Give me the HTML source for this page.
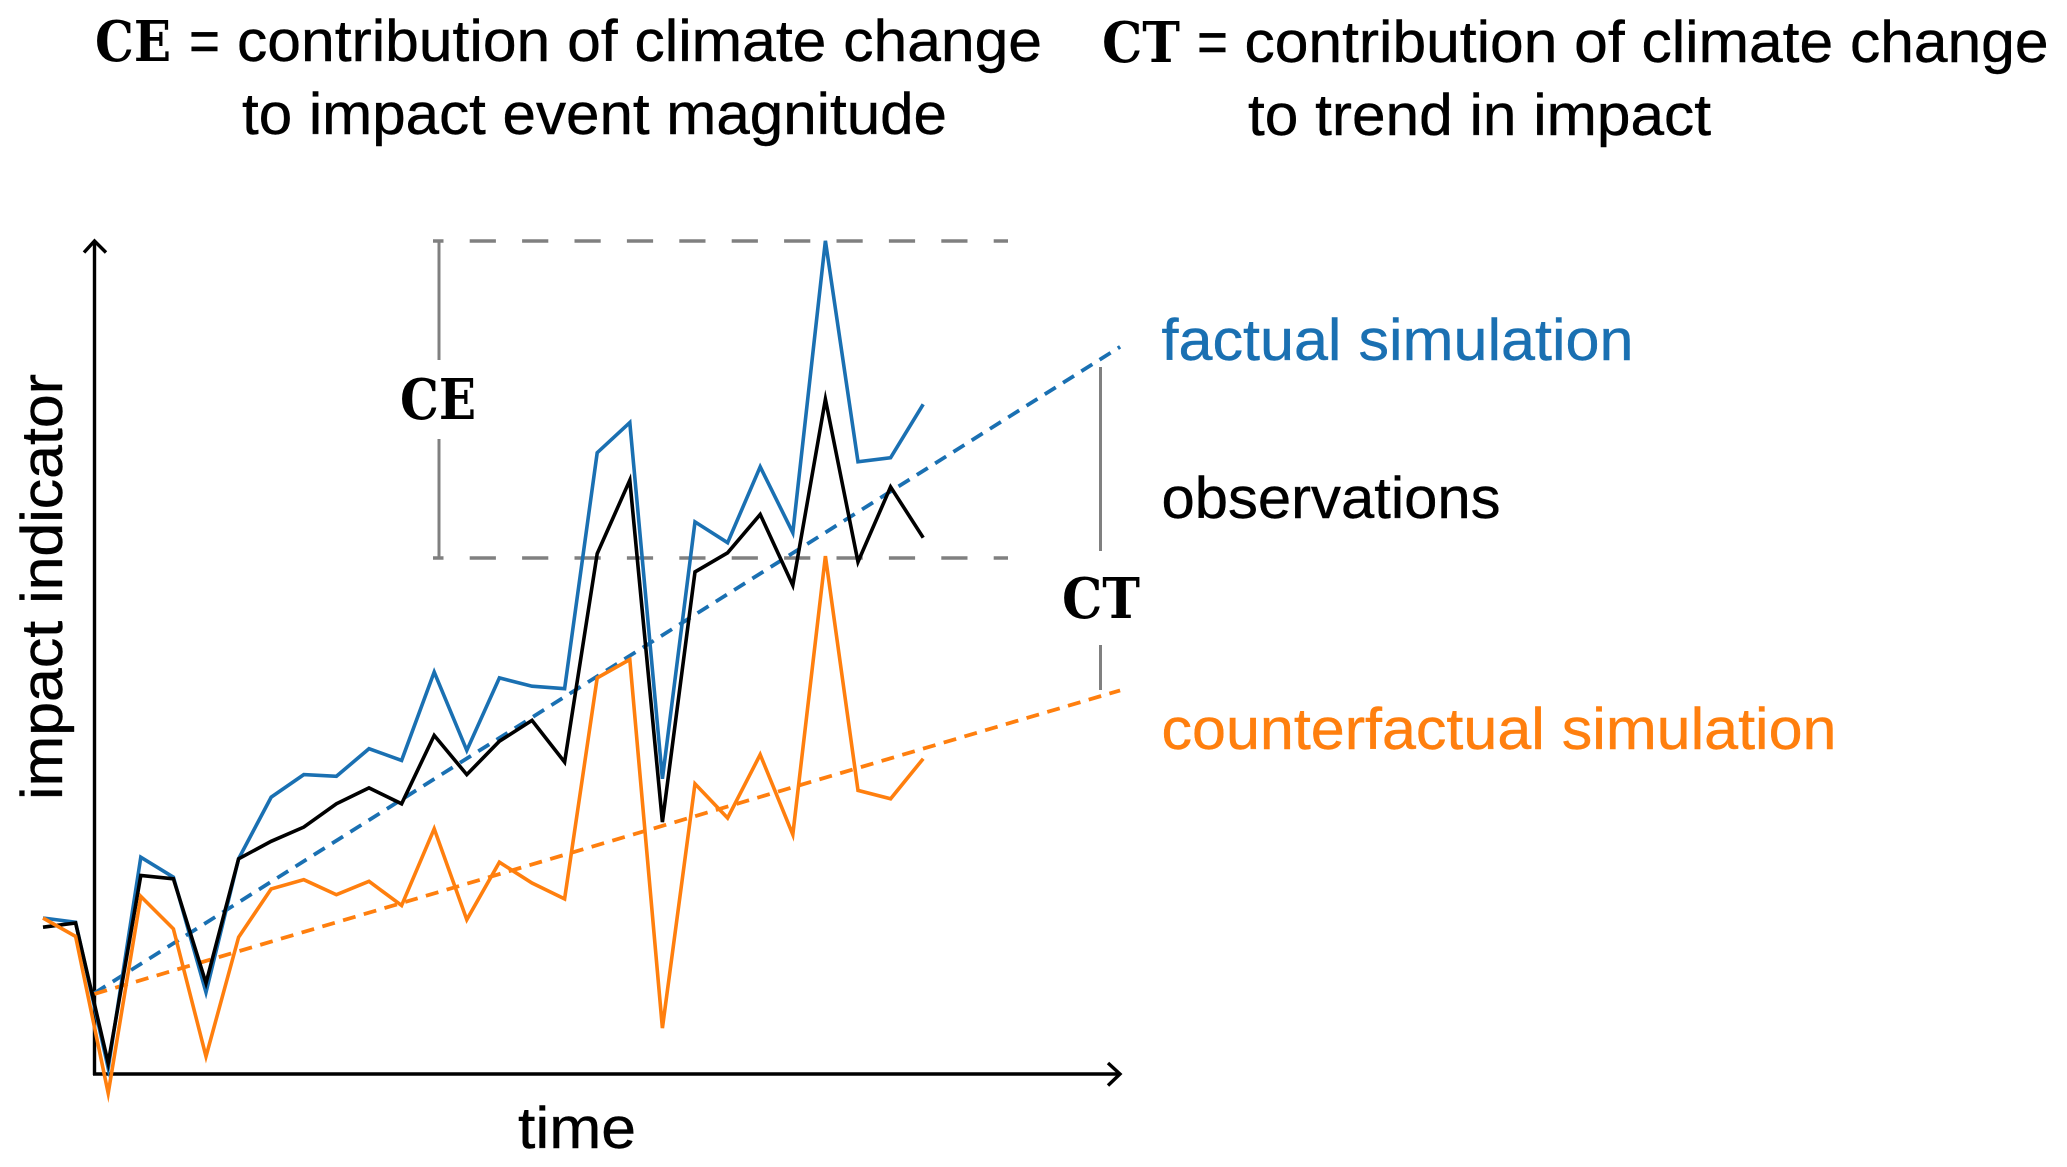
<!DOCTYPE html>
<html lang="en">
<head>
<meta charset="utf-8">
<title>Climate change contribution to impact events and trends</title>
<style>
html,body{margin:0;padding:0;background:#fff;width:2067px;height:1167px;overflow:hidden}
svg{display:block}
text{font-family:"Liberation Sans",sans-serif;font-size:58px;fill:#000;stroke:#000;stroke-width:.4px}
.key{font-family:"DejaVu Serif","Liberation Serif",serif;font-weight:700;font-size:56px;stroke-width:0}
</style>
</head>
<body>
<svg id="chart" xmlns="http://www.w3.org/2000/svg" width="2067" height="1167" viewBox="0 0 2067 1167">
  <rect x="0" y="0" width="2067" height="1167" fill="#fff"/>

  <g id="annotations" stroke="#808080" fill="none">
    <line x1="433" y1="241" x2="1008" y2="241" stroke-width="3.6" stroke-dasharray="26.2 26.2" stroke-dashoffset="15.7"/>
    <line x1="433" y1="558" x2="1008" y2="558" stroke-width="3.6" stroke-dasharray="26.2 26.2" stroke-dashoffset="15.7"/>
    <line x1="439" y1="241" x2="439" y2="360" stroke-width="3"/>
    <line x1="439" y1="439" x2="439" y2="558" stroke-width="3"/>
    <line x1="1100.5" y1="367" x2="1100.5" y2="551" stroke-width="3"/>
    <line x1="1100.5" y1="645" x2="1100.5" y2="690" stroke-width="3"/>
  </g>

  <g id="axes" stroke="#000" fill="none" stroke-width="3.4">
    <line x1="94.5" y1="1075" x2="94.5" y2="241"/>
    <polyline points="84,252.5 94.5,241 106,252.5"/>
    <line x1="93" y1="1074" x2="1119" y2="1074"/>
    <polyline points="1108,1063 1120,1074 1108,1085.5"/>
  </g>

  <g id="trends"></g>
  <g id="series"></g>

  <g>
    <text class="key" x="95" y="61" textLength="76" lengthAdjust="spacingAndGlyphs">CE</text>
    <text x="189" y="61" textLength="31" lengthAdjust="spacingAndGlyphs">=</text>
    <text x="237" y="61" textLength="805" lengthAdjust="spacingAndGlyphs">contribution of climate change</text>
    <text x="242" y="134" textLength="705" lengthAdjust="spacingAndGlyphs">to impact event magnitude</text>
    <text class="key" x="1102" y="62" textLength="78" lengthAdjust="spacingAndGlyphs">CT</text>
    <text x="1197" y="62" textLength="31" lengthAdjust="spacingAndGlyphs">=</text>
    <text x="1244.5" y="62" textLength="804" lengthAdjust="spacingAndGlyphs">contribution of climate change</text>
    <text x="1248" y="135" textLength="463" lengthAdjust="spacingAndGlyphs">to trend in impact</text>
  </g>

  <text class="key" x="400" y="419" textLength="76" lengthAdjust="spacingAndGlyphs">CE</text>
  <text class="key" x="1062" y="618" textLength="78" lengthAdjust="spacingAndGlyphs">CT</text>

  <text transform="translate(62 800) rotate(-90)" x="0" y="0" textLength="426" lengthAdjust="spacingAndGlyphs">impact indicator</text>
  <text x="518" y="1148" textLength="118" lengthAdjust="spacingAndGlyphs">time</text>

  <text x="1161.5" y="360" textLength="472" lengthAdjust="spacingAndGlyphs" style="fill:#1a70b2;stroke:#1a70b2">factual simulation</text>
  <text x="1161.5" y="518" textLength="339" lengthAdjust="spacingAndGlyphs">observations</text>
  <text x="1161.5" y="749" textLength="675" lengthAdjust="spacingAndGlyphs" style="fill:#ff7f0e;stroke:#ff7f0e">counterfactual simulation</text>
</svg>

<script>
// Schematic values: impact indicator on a 0-100 axis, one value per time step.
const factualValues = [18.7,18.2,0.7,26.0,23.6,9.8,25.8,33.2,35.9,35.7,39.0,37.6,48.2,38.8,47.5,46.5,46.2,74.5,78.1,35.4,66.2,63.7,72.8,64.9,99.9,73.4,73.9,80.3];
const observedValues = [17.6,18.1,1.3,23.8,23.4,10.9,25.8,27.9,29.6,32.4,34.3,32.4,40.6,35.9,39.9,42.4,37.4,62.4,71.2,30.2,60.2,62.5,67.1,58.6,80.9,61.4,70.4,64.3];
const counterfactualValues = [18.7,16.5,-2.3,21.3,17.4,2.1,16.4,22.2,23.3,21.5,23.1,20.2,29.4,18.5,25.4,22.9,21.0,47.5,49.7,5.5,34.8,30.7,38.3,28.7,62.1,34.0,33.0,37.8];
const trendTimes = [1.58,33.04];
const factualTrendValues = [9.7,87.2];
const counterfactualTrendValues = [9.6,46.0];

function xScale(t){ return 43 + 32.6 * t; }
function yScale(v){ return 1074 - 8.34 * v; }
function pointsFrom(times, values){
  return values.map(function(v,i){ return xScale(times[i]).toFixed(1) + ',' + yScale(v).toFixed(1); }).join(' ');
}
const svgNS = 'http://www.w3.org/2000/svg';
const seriesGroup = document.getElementById('series');
const trendGroup = document.getElementById('trends');

function addLine(parent, times, values, color, dash){
  const el = document.createElementNS(svgNS, 'polyline');
  el.setAttribute('points', pointsFrom(times, values));
  el.setAttribute('fill', 'none');
  el.setAttribute('stroke', color);
  el.setAttribute('stroke-width', dash ? '3.8' : '3.6');
  el.setAttribute('stroke-linejoin', 'miter');
  el.setAttribute('stroke-miterlimit', '6');
  if (dash) el.setAttribute('stroke-dasharray', dash);
  parent.appendChild(el);
  return el;
}
const timeSteps = factualValues.map(function(_, i){ return i; });

const factualTrend = addLine(trendGroup, trendTimes, factualTrendValues, '#1a70b2', '13 8.6');



const counterfactualTrend = addLine(trendGroup, trendTimes, counterfactualTrendValues, '#ff7f0e', '13 8.6');



const factualLine = addLine(seriesGroup, timeSteps, factualValues, '#1a70b2');



const observedLine = addLine(seriesGroup, timeSteps, observedValues, '#000000');



const counterfactualLine = addLine(seriesGroup, timeSteps, counterfactualValues, '#ff7f0e');


</script>
</body>
</html>
